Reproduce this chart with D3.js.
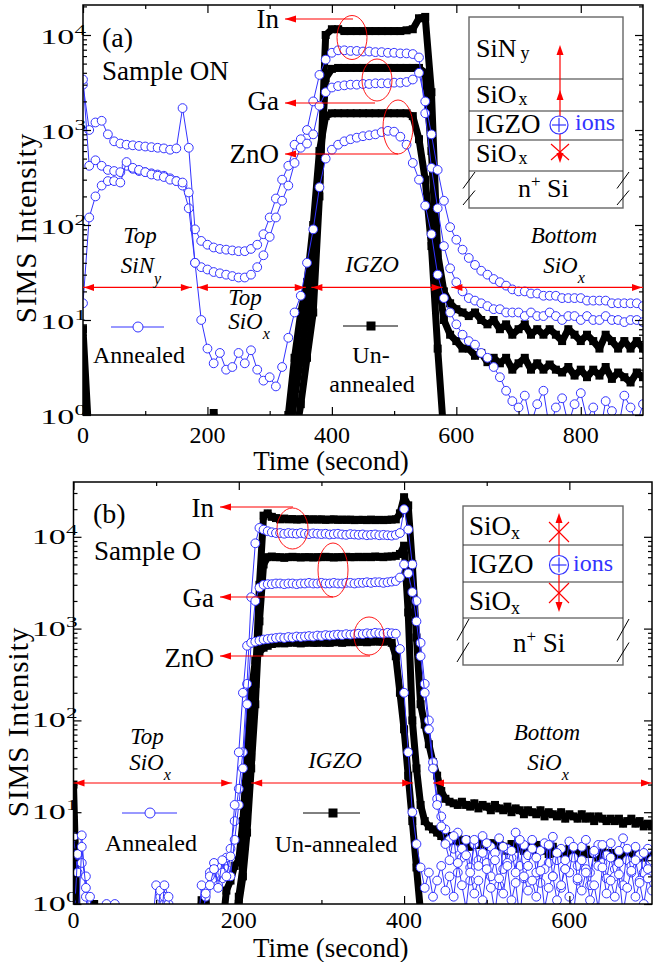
<!DOCTYPE html>
<html lang="en">
<head>
<meta charset="UTF-8">
<title>SIMS depth profiles</title>
<script src="https://d3js.org/d3.v7.min.js"></script>
<style>
  body { margin: 0; background: white; }
  svg { display: block; font-family: "Liberation Serif", "Times New Roman", serif; }
</style>
</head>
<body>
<div id="chart"></div>
<script>
// sampling grids (seconds)
const timeA = d3.range(0, 901, 10)
const timeB = d3.range(0, 701, 5)

// ---- panel (a): Sample ON ----
// annealed (blue circles)
const annA_In = [
  3000, 1000, 1200, 1250, 900, 760, 720, 700, 690, 680,
  670, 660, 650, 640, 620, 640, 1700, 650, 90, 68,
  62, 58, 56, 55, 54, 53, 53, 56, 62, 80,
  120, 190, 300, 420, 700, 800, 1000, 2000, 3800, 5500,
  6500, 6900, 6900, 6800, 6800, 6700, 6700, 6600, 6600, 6500,
  6500, 6400, 6400, 6300, 5800, 1500, 400, 150, 60, 35,
  25, 20, 17, 16, 15, 14, 13, 13, 12, 12,
  12, 11, 12, 11, 11, 12, 11, 10, 11, 11,
  10, 11, 10, 10, 11, 10, 10, 9.5, 10, 10,
  9.5]
const annA_Ga = [
  3400, 420, 480, 420, 380, 370, 360, 420, 390, 370,
  360, 350, 340, 330, 310, 290, 260, 150, 40, 36,
  34, 32, 31, 30, 29, 28, 28, 30, 36, 48,
  75, 120, 180, 260, 450, 650, 720, 900, 1800, 2500,
  2800, 2900, 2950, 3000, 3000, 3050, 3050, 3100, 3100, 3100,
  3150, 3150, 3200, 3400, 4000, 2000, 900, 380, 180, 95,
  70, 55, 45, 38, 33, 30, 27, 25, 23, 21,
  20, 20, 19, 19, 18, 18, 18, 17, 17, 17,
  17, 16, 16, 16, 16, 15, 15, 15, 15, 15,
  14]
const annA_ZnO = [
  15, 120, 200, 260, 290, 290, 280, 460, 400, 380,
  360, 340, 330, 320, 300, 290, 280, 220, 40, 10,
  5, 3.5, 4.5, 3, 3.2, 4.5, 3.5, 4.8, 3, 2.3,
  2.5, 2, 3.2, 6.5, 12, 18, 40, 90, 250, 500,
  620, 700, 760, 800, 830, 860, 880, 900, 950, 980,
  960, 850, 700, 450, 300, 160, 80, 30, 17, 12,
  9, 7, 6, 5.5, 4.5, 4, 3.2, 2.5, 1.8, 1.4,
  1.2, 1.6, 0.8, 1.3, 1.8, 0.7, 1.2, 1.5, 0.8, 1.3,
  1.7, 0.9, 1.2, 0.6, 1.4, 1.1, 0.7, 1.6, 1.2, 0.8,
  1.3]
// un-annealed (black squares); 0.5 = below the axis
const unA_In = [
  8, 0.5, 0.5, 0.5, 0.5, 0.5, 0.5, 0.5, 0.5, 0.5,
  0.5, 0.5, 0.5, 0.5, 0.5, 0.5, 0.5, 0.5, 0.5, 0.5,
  0.5, 0.5, 0.5, 0.5, 0.5, 0.5, 0.5, 0.5, 0.5, 0.5,
  0.5, 0.5, 0.5, 0.5, 0.5, 1.3, 4, 12, 200, 10000,
  11500, 11500, 11000, 11000, 11000, 11000, 11000, 11000, 11000, 11000,
  11000, 11000, 11200, 11500, 15000, 15500, 2500, 50, 20, 15,
  13, 12, 11, 12, 10, 9, 10, 8, 9, 7,
  8, 9, 7, 8, 7, 8, 7, 6, 8, 7,
  6, 7, 6, 5, 7, 6, 5, 6, 5, 6,
  5]
const unA_Ga = [
  3, 0.5, 0.5, 0.5, 0.5, 0.5, 0.5, 0.5, 0.5, 0.5,
  0.5, 0.5, 0.5, 0.5, 0.5, 0.5, 0.5, 0.5, 0.5, 0.5,
  0.5, 0.5, 0.5, 0.5, 0.5, 0.5, 0.5, 0.5, 0.5, 0.5,
  0.5, 0.5, 0.5, 0.5, 1.5, 4, 12, 40, 300, 3500,
  4400, 4500, 4500, 4500, 4500, 4500, 4500, 4500, 4500, 4500,
  4500, 4500, 4500, 4500, 4500, 4000, 600, 30, 10, 7,
  6, 5, 5, 4.2, 4.5, 3.6, 4, 3.5, 4, 3,
  3.5, 4, 3, 3.5, 3, 3.4, 3, 2.8, 3.2, 2.6,
  3, 2.5, 3, 2.6, 3.2, 2.4, 2.8, 2.5, 2.2, 2.8,
  2.5]
const unA_ZnO = [
  0.5, 0.5, 0.5, 0.5, 0.5, 0.5, 0.5, 0.5, 0.5, 0.5,
  0.5, 0.5, 0.5, 0.5, 0.5, 0.5, 0.5, 0.5, 0.5, 0.5,
  0.5, 1.05, 0.5, 0.5, 0.5, 0.5, 0.5, 0.5, 0.5, 0.5,
  0.5, 0.5, 0.5, 1.0, 4, 12, 25, 100, 600, 1400,
  1500, 1500, 1500, 1500, 1500, 1500, 1500, 1500, 1500, 1500,
  1500, 1500, 1500, 1400, 800, 300, 60, 5, 0.6, 0.5,
  0.5, 0.5, 0.5, 0.5, 0.5, 0.5, 0.5, 0.5, 0.5, 0.5,
  0.5, 0.5, 0.5, 0.5, 0.5, 0.5, 0.5, 0.5, 0.5, 0.5,
  0.5, 0.5, 0.5, 0.5, 0.5, 0.5, 0.5, 0.5, 0.5, 0.5,
  0.5]

// ---- panel (b): Sample O ----
const annB_In = [
  5.4, 2.2, 5.6, 1.2, 0.5, 0.5, 0.5, 0.5, 1.0, 0.5,
  0.5, 0.5, 0.5, 0.5, 0.5, 0.5, 0.5, 0.5, 0.5, 0.5,
  1.6, 1.2, 1.0, 0.5, 0.5, 0.5, 0.5, 0.5, 0.5, 0.5,
  0.5, 0.5, 1.4, 2.2, 1.8, 2.6, 1.9, 2.4, 4, 8,
  18, 45, 250, 2200, 8500, 12500, 12000, 11500, 11200, 11000,
  11000, 10800, 11000, 10900, 10800, 11000, 10800, 10700, 10900, 10800,
  10700, 10800, 10600, 10700, 10800, 10600, 10500, 10700, 10600, 10500,
  10600, 10400, 10500, 10600, 10400, 10500, 10400, 10300, 10500, 11000,
  20000, 12000, 5000, 2000, 700, 250, 100, 35, 14, 9,
  6.5, 5, 4, 6, 3.2, 5, 2.5, 4.5, 3, 5.5,
  2.8, 4.2, 3.6, 5.2, 2.4, 4, 3.2, 6, 2.6, 4.4,
  3.4, 5, 2.2, 3.8, 4.6, 2.8, 5.4, 3, 4, 2.4,
  4.8, 3.2, 2.6, 4.2, 5, 2.2, 3.6, 4.4, 2.8, 3.4,
  4.6, 2.4, 3.8, 5.2, 3, 2.6, 4.2, 3.4, 2.2, 4,
  3]
const annB_Ga = [
  0.5, 3.5, 2.8, 2.0, 0.5, 0.5, 0.5, 0.5, 0.5, 0.5,
  0.5, 0.5, 0.5, 0.5, 0.5, 0.5, 0.5, 0.5, 0.5, 0.5,
  0.5, 1.4, 1.2, 1.0, 0.5, 0.5, 0.5, 0.5, 0.5, 0.5,
  0.5, 1.6, 1.2, 2.0, 2.8, 1.6, 2.2, 3.2, 2.0, 5,
  12, 30, 150, 700, 2000, 2800, 3000, 3050, 3050, 3100,
  3100, 3050, 3100, 3100, 3050, 3100, 3100, 3150, 3100, 3100,
  3150, 3100, 3100, 3150, 3100, 3100, 3150, 3150, 3100, 3150,
  3150, 3200, 3150, 3200, 3200, 3150, 3200, 3250, 3300, 3600,
  5000, 4000, 2500, 1200, 500, 200, 80, 30, 12, 7,
  4.5, 3, 5.5, 2.2, 4, 3.4, 1.8, 5, 2.6, 3.6,
  4.6, 2, 3, 1.6, 4.2, 2.8, 3.8, 2.2, 5, 1.9,
  2.6, 4, 3.2, 1.7, 2.4, 4.4, 2, 3.6, 1.5, 3,
  2.2, 4.2, 1.8, 3, 2.4, 1.6, 3.8, 2.6, 4.4, 1.9,
  3.2, 2, 2.8, 1.6, 4, 2.2, 3, 1.8, 3.6, 2.4,
  2]
const annB_ZnO = [
  0.5, 0.5, 4.2, 1.5, 1.2, 0.5, 0.5, 0.5, 0.5, 0.5,
  1.0, 0.5, 0.5, 0.5, 0.5, 0.5, 0.5, 0.5, 0.5, 0.5,
  0.5, 0.5, 1.6, 1.2, 0.5, 0.5, 0.5, 0.5, 0.5, 0.5,
  0.5, 0.5, 1.3, 1.6, 2.4, 1.5, 3.0, 2.0, 3.3, 12,
  45, 200, 650, 700, 720, 740, 760, 770, 780, 790,
  800, 790, 810, 800, 820, 810, 820, 830, 820, 840,
  830, 850, 840, 850, 860, 850, 870, 860, 870, 880,
  870, 890, 880, 900, 890, 880, 900, 890, 880, 600,
  200, 45, 10, 4.5, 2.5, 1.5, 2.2, 1.2, 1.8, 2.6,
  1.4, 2, 1.2, 2.8, 1.6, 0.9, 2.2, 1.3, 1.8, 1.1,
  2.4, 1.5, 0.8, 1.9, 1.3, 2.6, 1.1, 1.7, 0.7, 2,
  1.4, 1.8, 1.2, 2.3, 0.9, 1.5, 2, 1.1, 1.6, 2.4,
  1.2, 0.8, 1.9, 1.4, 2.2, 1.1, 1.6, 0.9, 2.5, 1.3,
  1.8, 1.2, 2.1, 0.8, 1.5, 2.3, 1.2, 1.7, 1, 1.9,
  1.4]
const unB_In = [
  20, 0.5, 0.5, 0.5, 0.5, 0.5, 0.5, 0.5, 0.5, 0.5,
  0.5, 0.5, 0.5, 0.5, 0.5, 0.5, 0.5, 0.5, 0.5, 0.5,
  0.5, 0.5, 0.5, 0.5, 0.5, 0.5, 0.5, 0.5, 0.5, 0.5,
  0.5, 0.5, 0.5, 0.5, 0.5, 0.5, 0.5, 0.5, 0.5, 0.5,
  1.2, 2.5, 8, 40, 250, 3000, 17000, 18000, 16500, 16000,
  15500, 15800, 15500, 15600, 15400, 15500, 15600, 15400, 15500, 15400,
  15500, 15300, 15400, 15500, 15300, 15400, 15300, 15400, 15200, 15300,
  15300, 15200, 15400, 15200, 15300, 15200, 15300, 15400, 15500, 18000,
  27000, 22000, 5000, 800, 150, 90, 55, 35, 25, 17,
  14, 13, 12.5, 12, 13, 12, 11.5, 12.5, 11, 12,
  11.5, 10.5, 12, 11, 10.5, 11.5, 10, 11, 10.5, 9.5,
  10.5, 10, 9.5, 10.5, 9, 10, 9.5, 9, 10, 8.5,
  9.5, 9, 8.5, 9.5, 8.5, 9, 8, 9, 8.5, 8,
  8.5, 8, 8.5, 7.5, 8, 8.5, 7.5, 8, 7, 7.5,
  7]
const unB_Ga = [
  4.4, 0.5, 0.5, 0.5, 0.5, 0.5, 0.5, 0.5, 0.5, 0.5,
  0.5, 0.5, 0.5, 0.5, 0.5, 0.5, 0.5, 0.5, 0.5, 0.5,
  0.5, 0.5, 0.5, 0.5, 0.5, 0.5, 0.5, 0.5, 0.5, 0.5,
  0.5, 0.5, 0.5, 0.5, 0.5, 0.5, 0.5, 0.5, 0.5, 0.5,
  1.0, 2, 6, 30, 150, 1200, 5000, 6000, 6100, 6000,
  6000, 5900, 6000, 6050, 6000, 5950, 6000, 6000, 5950, 6000,
  6000, 6050, 6000, 5950, 6000, 6000, 6050, 6000, 6000, 6050,
  6000, 6050, 6000, 6100, 6050, 6000, 6100, 6100, 6200, 6500,
  8000, 1500, 100, 30, 12, 8, 7, 6.5, 6, 5.5,
  5, 5.5, 4.6, 5.2, 4.4, 5, 4.2, 4.8, 4.4, 5,
  4.2, 4.6, 4, 4.8, 4.2, 3.8, 4.5, 4, 4.4, 3.8,
  4.2, 3.6, 4.4, 3.8, 4, 3.5, 4.2, 3.6, 3.9, 3.4,
  4, 3.6, 3.8, 3.3, 3.9, 3.5, 3.7, 3.2, 3.8, 3.4,
  3.6, 3.2, 3.7, 3.3, 3.5, 3.1, 3.6, 3.2, 3.4, 3.2,
  3.5]
const unB_ZnO = [
  0.5, 0.5, 0.5, 0.5, 0.5, 1.0, 0.5, 0.5, 0.5, 0.5,
  0.5, 0.5, 0.5, 0.5, 0.5, 0.5, 0.5, 0.5, 0.5, 0.5,
  0.5, 0.5, 0.5, 0.5, 0.5, 0.5, 0.5, 0.5, 0.5, 0.5,
  0.5, 1.1, 1.05, 0.5, 0.5, 0.5, 0.5, 1.4, 1.8, 2.6,
  3, 8, 40, 200, 450, 550, 620, 650, 680, 690,
  700, 690, 700, 710, 700, 690, 700, 710, 700, 700,
  710, 700, 700, 710, 720, 700, 710, 720, 710, 720,
  720, 710, 720, 730, 720, 720, 730, 700, 500, 200,
  80, 25, 8, 2.5, 0.8, 0.5, 0.5, 0.5, 0.5, 0.5,
  0.5, 0.5, 0.5, 0.5, 0.5, 0.5, 0.5, 0.5, 0.5, 0.5,
  0.5, 0.5, 0.5, 0.5, 0.5, 0.5, 0.5, 0.5, 0.5, 0.5,
  0.5, 0.5, 0.5, 0.5, 0.5, 0.5, 0.5, 0.5, 0.5, 0.5,
  0.5, 0.5, 0.5, 0.5, 0.5, 0.5, 0.5, 0.5, 0.5, 0.5,
  0.5, 0.5, 0.5, 0.5, 0.5, 0.5, 0.5, 0.5, 0.5, 0.5,
  0.5]

// layer regions marked by the red double arrows (seconds)
const regionsA = [[0, 175], [183, 358], [367, 578], [592, 900]]
const regionsB = [[0, 192], [215, 411], [435, 700]]

const BLUE = '#3333ff'
const RED = '#ff0000'

const svg = d3.select('#chart').append('svg')
  .attr('width', 667)
  .attr('height', 962)

function arrowHead(g, x, y, dir, len = 10, half = 3.5) {
  const p = {
    left: [[x, y], [x + len, y - half], [x + len, y + half]],
    right: [[x, y], [x - len, y - half], [x - len, y + half]],
    up: [[x, y], [x - half, y + len], [x + half, y + len]],
    down: [[x, y], [x - half, y - len], [x + half, y - len]]
  }[dir]
  g.append('path').attr('d', 'M' + p.map(d => d.join(',')).join('L') + 'Z').attr('fill', RED)
}

// parts: strings or {t, size, dy, dx}
function label(g, x, y, parts, o = {}) {
  const t = g.append('text')
    .attr('x', x).attr('y', y)
    .attr('font-size', o.size || 26)
    .attr('text-anchor', o.anchor || 'start')
    .attr('fill', o.color || 'black')
    .attr('font-style', o.italic ? 'italic' : 'normal')
  parts.forEach(p => {
    if (typeof p === 'string') t.append('tspan').text(p)
    else {
      const s = t.append('tspan').text(p.t)
      if (p.size) s.attr('font-size', p.size)
      if (p.dy) s.attr('dy', p.dy)
      if (p.dx) s.attr('dx', p.dx)
    }
  })
  return t
}

function drawPanel(p) {
  const x = d3.scaleLinear().domain([0, p.xMax]).range([p.left, p.right])
  const y = d3.scaleLog().domain([1, p.yMax]).range([p.bottom, p.top])
  const g = svg.append('g')

  g.append('clipPath').attr('id', 'clip-' + p.id).append('rect')
    .attr('x', p.left).attr('y', p.top)
    .attr('width', p.right - p.left).attr('height', p.bottom - p.top)
  const plot = g.append('g').attr('clip-path', `url(#clip-${p.id})`)

  const line = d3.line().x((d, i) => x(p.time[i])).y(d => y(d))

  // un-annealed: dense square symbols, drawn as a thick band plus squares
  p.un.forEach(vals => {
    plot.append('path').datum(vals).attr('d', line)
      .attr('fill', 'none').attr('stroke', 'black').attr('stroke-width', 7)
      .attr('stroke-linejoin', 'round').attr('stroke-linecap', 'square')
    plot.append('g').selectAll('rect').data(vals).join('rect')
      .attr('x', (d, i) => x(p.time[i]) - 4)
      .attr('y', d => y(d) - 4)
      .attr('width', 8).attr('height', 8)
      .attr('fill', 'black')
  })
  p.ann.forEach(vals => {
    plot.append('path').datum(vals).attr('d', line)
      .attr('fill', 'none').attr('stroke', BLUE).attr('stroke-width', 1)
    plot.append('g').selectAll('circle').data(vals).join('circle')
      .attr('cx', (d, i) => x(p.time[i]))
      .attr('cy', d => y(d))
      .attr('r', 4.4)
      .attr('fill', 'white').attr('stroke', BLUE).attr('stroke-width', 1)
  })

  // ticks on all four sides, pointing inward
  const yMajor = [1, 10, 100, 1000, 10000]
  const yMinor = []
  for (let e = 0; e < 5; e++) for (let k = 2; k < 10; k++) {
    const v = k * Math.pow(10, e)
    if (v < p.yMax) yMinor.push(v)
  }
  const clean = s => s.call(a => a.select('.domain').remove())
    .selectAll('line').attr('stroke', 'black').attr('stroke-width', 1.2)
  const axes = [
    [d3.axisBottom(x), `translate(0,${p.bottom})`, p.xMajor, p.xMinor],
    [d3.axisTop(x), `translate(0,${p.top})`, p.xMajor, p.xMinor],
    [d3.axisLeft(y), `translate(${p.left},0)`, yMajor, yMinor],
    [d3.axisRight(y), `translate(${p.right},0)`, yMajor, yMinor]
  ]
  axes.forEach(([ax, tr, major, minor]) => {
    g.append('g').attr('transform', tr)
      .call(ax.tickValues(major).tickSize(-8).tickSizeOuter(0).tickFormat(''))
      .call(clean)
    g.append('g').attr('transform', tr)
      .call(ax.tickValues(minor).tickSize(-4).tickSizeOuter(0).tickFormat(''))
      .call(clean)
  })

  g.append('rect')
    .attr('x', p.left).attr('y', p.top)
    .attr('width', p.right - p.left).attr('height', p.bottom - p.top)
    .attr('fill', 'none').attr('stroke', 'black').attr('stroke-width', 1.5)

  // tick labels
  p.xMajor.forEach(v => {
    g.append('text').attr('x', x(v)).attr('y', p.xLabelY)
      .attr('text-anchor', 'middle').attr('font-size', 24).text(v)
  })
  yMajor.forEach((v, i) => {
    const t = g.append('g')
      .attr('transform', `translate(${p.left + p.yLabelDx},${y(v) + p.yLabelDy}) scale(1.55,1)`)
      .append('text').attr('text-anchor', 'end').attr('font-size', 22)
    t.append('tspan').text('10')
    t.append('tspan').attr('font-size', 15).attr('dy', -9).text(i)
  })

  g.append('text').attr('x', (p.left + p.right) / 2 + p.titleDx).attr('y', p.titleY)
    .attr('text-anchor', 'middle').attr('font-size', 27).text('Time (second)')
  g.append('text')
    .attr('transform', `translate(${p.yTitleX},${p.yTitleY}) rotate(-90)`)
    .attr('text-anchor', 'middle').attr('font-size', 29).attr('letter-spacing', 1)
    .text('SIMS Intensity')

  // red double arrows marking the layers
  const ry = y(p.regionY)
  p.regions.forEach(([t0, t1]) => {
    g.append('line').attr('x1', x(t0)).attr('x2', x(t1)).attr('y1', ry).attr('y2', ry)
      .attr('stroke', RED).attr('stroke-width', 1.2)
    arrowHead(g, x(t0) + 1, ry, 'left')
    arrowHead(g, x(t1) - 1, ry, 'right')
  })

  // legend
  const lg = g.append('g')
  lg.append('line').attr('x1', p.legBlue[0]).attr('x2', p.legBlue[1])
    .attr('y1', p.legBlue[3]).attr('y2', p.legBlue[3]).attr('stroke', BLUE)
  lg.append('circle').attr('cx', p.legBlue[2]).attr('cy', p.legBlue[3]).attr('r', 5)
    .attr('fill', 'white').attr('stroke', BLUE)
  lg.append('line').attr('x1', p.legBlack[0]).attr('x2', p.legBlack[1])
    .attr('y1', p.legBlack[3]).attr('y2', p.legBlack[3]).attr('stroke', 'black')
  lg.append('rect').attr('x', p.legBlack[2] - 4.5).attr('y', p.legBlack[3] - 4.5)
    .attr('width', 9).attr('height', 9).attr('fill', 'black')

  return g
}

function elementLabels(g, items) {
  items.forEach(([name, tx, ty, ay, ax2]) => {
    label(g, tx, ty, [name], { size: 27, anchor: 'end' })
    g.append('line').attr('x1', tx + 6).attr('x2', ax2).attr('y1', ay).attr('y2', ay)
      .attr('stroke', RED).attr('stroke-width', 1.2)
    arrowHead(g, tx + 6, ay, 'left', 11, 3.5)
  })
}

function ellipses(g, list) {
  list.forEach(([cx, cy, rx, ry]) => {
    g.append('ellipse').attr('cx', cx).attr('cy', cy).attr('rx', rx).attr('ry', ry)
      .attr('fill', 'none').attr('stroke', RED).attr('stroke-width', 0.9)
  })
}

function ion(g, cx, cy, r, textX, textY) {
  g.append('circle').attr('cx', cx).attr('cy', cy).attr('r', r)
    .attr('fill', 'white').attr('stroke', BLUE).attr('stroke-width', 1.2)
  g.append('line').attr('x1', cx - r + 2).attr('x2', cx + r - 2).attr('y1', cy).attr('y2', cy)
    .attr('stroke', BLUE).attr('stroke-width', 1.2)
  g.append('line').attr('x1', cx).attr('x2', cx).attr('y1', cy - r + 2).attr('y2', cy + r - 2)
    .attr('stroke', BLUE).attr('stroke-width', 1.2)
  label(g, textX, textY, ['ions'], { size: 24, color: BLUE })
}

function cross(g, cx, cy, hw, hh) {
  g.append('line').attr('x1', cx - hw).attr('x2', cx + hw).attr('y1', cy - hh).attr('y2', cy + hh)
    .attr('stroke', RED).attr('stroke-width', 1.1)
  g.append('line').attr('x1', cx - hw).attr('x2', cx + hw).attr('y1', cy + hh).attr('y2', cy - hh)
    .attr('stroke', RED).attr('stroke-width', 1.1)
}

function insetBox(g, x0, x1, ys) {
  g.append('rect').attr('x', x0).attr('y', ys[0]).attr('width', x1 - x0)
    .attr('height', ys[ys.length - 1] - ys[0])
    .attr('fill', 'white').attr('stroke', '#666').attr('stroke-width', 1.4)
  ys.slice(1, -1).forEach(v => {
    g.append('line').attr('x1', x0).attr('x2', x1).attr('y1', v).attr('y2', v)
      .attr('stroke', '#333').attr('stroke-width', 1.2)
  })
  // break marks on the substrate
  const yb0 = ys[ys.length - 2], yb1 = ys[ys.length - 1]
  const m = (yb0 + yb1) / 2
  ;[x0, x1].forEach(xe => {
    g.append('line').attr('x1', xe - 6).attr('x2', xe + 6).attr('y1', m - 1).attr('y2', yb0 + 1)
      .attr('stroke', 'black').attr('stroke-width', 1)
    g.append('line').attr('x1', xe - 6).attr('x2', xe + 6).attr('y1', yb1 - 3).attr('y2', m + 1)
      .attr('stroke', 'black').attr('stroke-width', 1)
  })
}

// ---------- panel (a) ----------
const gA = drawPanel({
  id: 'a', left: 83, right: 643, top: 5, bottom: 415, xMax: 900, yMax: 20690,
  time: timeA,
  ann: [annA_In, annA_Ga, annA_ZnO],
  un: [unA_In, unA_Ga, unA_ZnO],
  xMajor: [0, 200, 400, 600, 800], xMinor: [100, 300, 500, 700],
  xLabelY: 443, titleY: 470, titleDx: -32, yTitleX: 36, yTitleY: 228,
  yLabelDx: 3, yLabelDy: 9,
  regions: regionsA, regionY: 22,
  legBlue: [111, 164, 138, 327], legBlack: [343, 398, 371, 326]
})
label(gA, 102, 47, ['(a)'], { size: 28 })
label(gA, 102, 80, ['Sample ON'], { size: 27 })
elementLabels(gA, [['In', 279, 28, 19, 353], ['Ga', 279, 110, 103, 375], ['ZnO', 279, 163, 154, 398]])
ellipses(gA, [[352, 37.5, 15, 22], [377, 80, 15, 21], [398, 127, 15, 27]])
label(gA, 140, 243, ['Top'], { size: 23, italic: true, anchor: 'middle' })
label(gA, 141, 273, ['SiN', { t: 'y', size: 16, dy: 11 }], { size: 23, italic: true, anchor: 'middle' })
label(gA, 245, 305, ['Top'], { size: 23, italic: true, anchor: 'middle' })
label(gA, 249, 329, ['SiO', { t: 'x', size: 16, dy: 10 }], { size: 23, italic: true, anchor: 'middle' })
label(gA, 372, 272, ['IGZO'], { size: 23, italic: true, anchor: 'middle' })
label(gA, 564, 243, ['Bottom'], { size: 23, italic: true, anchor: 'middle' })
label(gA, 564, 273, ['SiO', { t: 'x', size: 16, dy: 10 }], { size: 23, italic: true, anchor: 'middle' })
label(gA, 139, 363, ['Annealed'], { size: 24, anchor: 'middle' })
label(gA, 371, 363, ['Un-'], { size: 24, anchor: 'middle' })
label(gA, 372, 392, ['annealed'], { size: 24, anchor: 'middle' })

// inset (a): SiNy / SiOx / IGZO / SiOx / n+ Si
insetBox(gA, 469, 623, [17, 79, 111, 140, 171, 208])
label(gA, 476, 57, ['SiN', { t: 'y', size: 18, dy: 2, dx: 4 }], { size: 26 })
label(gA, 476, 103, ['SiO', { t: 'x', size: 18, dy: 2, dx: 2 }], { size: 26 })
label(gA, 476, 133, ['IGZO'], { size: 27 })
label(gA, 476, 162, ['SiO', { t: 'x', size: 18, dy: 2, dx: 2 }], { size: 26 })
label(gA, 518, 197, ['n', { t: '+', size: 17, dy: -10 }, { t: ' Si', dy: 10 }], { size: 26 })
gA.append('line').attr('x1', 560).attr('x2', 560).attr('y1', 50).attr('y2', 158)
  .attr('stroke', RED).attr('stroke-width', 1.2)
arrowHead(gA, 560, 45, 'up')
arrowHead(gA, 560, 90, 'up')
arrowHead(gA, 560, 163, 'down')
cross(gA, 560, 152, 9, 8)
ion(gA, 559, 125, 9, 575, 130)

// ---------- panel (b) ----------
const gB = drawPanel({
  id: 'b', left: 73.5, right: 652, top: 482, bottom: 904, xMax: 700, yMax: 39540,
  time: timeB,
  ann: [annB_In, annB_Ga, annB_ZnO],
  un: [unB_In, unB_Ga, unB_ZnO],
  xMajor: [0, 200, 400, 600], xMinor: [100, 300, 500],
  xLabelY: 928, titleY: 957, titleDx: -32, yTitleX: 28, yTitleY: 722,
  yLabelDx: 4, yLabelDy: 7,
  regions: regionsB, regionY: 20.8,
  legBlue: [122, 177, 150, 813], legBlack: [303, 360, 333, 813]
})
label(gB, 93, 523, ['(b)'], { size: 28 })
label(gB, 94, 560, ['Sample O'], { size: 27 })
elementLabels(gB, [['In', 214, 517, 507, 293], ['Ga', 214, 607, 597, 333], ['ZnO', 214, 667, 656, 370]])
ellipses(gB, [[292.5, 528.5, 15.5, 20.5], [333, 570, 15, 27], [369, 636, 15, 19]])
label(gB, 147, 744, ['Top'], { size: 23, italic: true, anchor: 'middle' })
label(gB, 150, 770, ['SiO', { t: 'x', size: 16, dy: 10 }], { size: 23, italic: true, anchor: 'middle' })
label(gB, 335, 768, ['IGZO'], { size: 23, italic: true, anchor: 'middle' })
label(gB, 547, 740, ['Bottom'], { size: 23, italic: true, anchor: 'middle' })
label(gB, 548, 770, ['SiO', { t: 'x', size: 16, dy: 10 }], { size: 23, italic: true, anchor: 'middle' })
label(gB, 151, 851, ['Annealed'], { size: 24, anchor: 'middle' })
label(gB, 336, 852, ['Un-annealed'], { size: 24, anchor: 'middle' })

// inset (b): SiOx / IGZO / SiOx / n+ Si
insetBox(gB, 463, 623, [506, 545, 582, 618, 665])
label(gB, 469, 535, ['SiO', { t: 'x', size: 18, dy: 4 }], { size: 27 })
label(gB, 469, 573, ['IGZO'], { size: 27 })
label(gB, 469, 610, ['SiO', { t: 'x', size: 18, dy: 4 }], { size: 27 })
label(gB, 513, 652, ['n', { t: '+', size: 17, dy: -10 }, { t: ' Si', dy: 10 }], { size: 27 })
gB.append('line').attr('x1', 559).attr('x2', 559).attr('y1', 518).attr('y2', 607)
  .attr('stroke', RED).attr('stroke-width', 1.2)
arrowHead(gB, 559, 513, 'up')
arrowHead(gB, 559, 612, 'down')
cross(gB, 559, 532, 10, 10)
cross(gB, 559, 593, 10, 10)
ion(gB, 559, 565, 9.5, 573, 571)
</script>
</body>
</html>
